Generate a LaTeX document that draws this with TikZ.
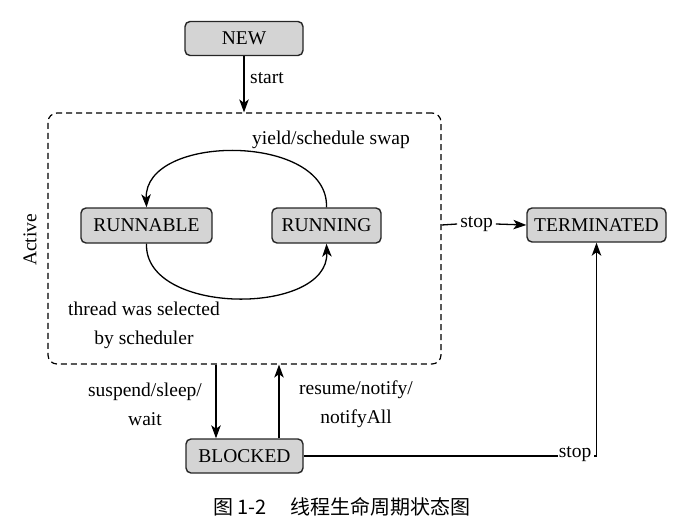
\documentclass[tikz,border=0pt]{standalone}
\usepackage{fontspec}
\setmainfont{Liberation Serif}
\newfontfamily\cjk{Noto Sans CJK SC}
\usetikzlibrary{arrows.meta,calc}
\begin{document}
\begin{tikzpicture}[x=1pt,y=-1pt,
  every node/.style={font=\fontsize{19.5}{29}\selectfont},
  state/.style={draw=black!85,line width=1.4pt,fill=black!17,rounded corners=5pt,
    minimum height=34pt,inner sep=0pt},
  lbl/.style={inner sep=0pt,align=center},
  arr/.style={line width=1.3pt,-{Stealth[length=13pt,width=9.5pt,inset=3.5pt]}},
  ln/.style={line width=1.3pt}]
\useasboundingbox (0,0) rectangle (680,528);
\node[state,minimum width=118pt] (NEW) at (244,38.5) {NEW};
\node[draw,line width=1.2pt,dash pattern=on 6pt off 4pt,rounded corners=9pt,
  minimum width=393pt,minimum height=251pt,inner sep=0pt] (active) at (244.5,238.5) {};
\node[rotate=90,inner sep=0pt] (activelbl) at (30,240) {Active};
\node[state,minimum width=131pt,minimum height=35pt] (RUNNABLE) at (146.5,225.5) {RUNNABLE};
\node[state,minimum width=109pt,minimum height=35pt] (RUNNING) at (326.5,225.5) {RUNNING};
\node[state,minimum width=139pt] (TERMINATED) at (596.5,225) {TERMINATED};
\node[state,minimum width=117pt] (BLOCKED) at (244.5,456) {BLOCKED};
% labels
\node[lbl,anchor=west] (startlbl) at (250,78) {start};
\node[lbl] (yieldlbl) at (331,140) {yield/schedule swap};
\node[lbl] (threadlbl) at (144,325) {thread was selected\\by scheduler};
\node[lbl] (suspendlbl) at (145,404) {suspend/sleep/\\wait};
\node[lbl] (resumelbl) at (356,404) {resume/notify/\\notifyAll};
\node[lbl] (stopA) at (476.5,224) {stop};
\node[lbl] (stopB) at (575,454) {stop};
\node[lbl] (caption) at (342,507) {\cjk\fontsize{20}{24}\selectfont 图 1-2\hspace{1.2em}线程生命周期状态图};
% connectors
\draw[arr] (NEW.south) -- (NEW.south |- active.north);
\draw[arr] (RUNNING.north) .. controls (329,133) and (144,133) .. (RUNNABLE.north);
\draw[arr] (RUNNABLE.south) .. controls (144,316) and (329,316) .. (RUNNING.south);
\draw[ln] (active.east |- TERMINATED.west) -- ([xshift=-3pt]stopA.west);
\draw[arr] ([xshift=3pt]stopA.east) -- (TERMINATED.west);
\draw[arr] ([xshift=-28.5pt]BLOCKED.north |- active.south) -- ([xshift=-28.5pt]BLOCKED.north);
\draw[arr] ([xshift=34.5pt]BLOCKED.north) -- ([xshift=34.5pt]BLOCKED.north |- active.south);
\draw[ln] (BLOCKED.east) -- ([xshift=-1pt]stopB.west |- BLOCKED.east);
\draw[arr] ([xshift=3pt]stopB.east |- BLOCKED.east) -| (TERMINATED.south);
\end{tikzpicture}
\end{document}
